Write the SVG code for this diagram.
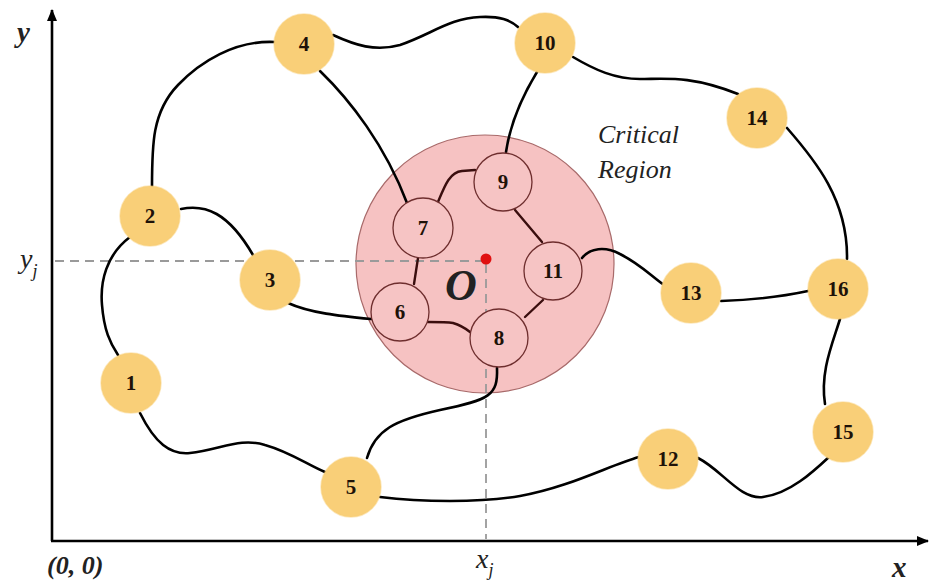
<svg xmlns="http://www.w3.org/2000/svg" width="935" height="584" viewBox="0 0 935 584">
<defs>
<marker id="arr" viewBox="0 0 12 10" refX="11" refY="5" markerWidth="12" markerHeight="10" markerUnits="userSpaceOnUse" orient="auto">
<path d="M0,0 L12,5 L0,10 Z" fill="#000"/>
</marker>
<style>
.axis{stroke:#000;stroke-width:2.6;fill:none}
.dash{stroke:#9a9a9a;stroke-width:1.8;stroke-dasharray:9,6;fill:none}
.edge{stroke:#000;stroke-width:2.6;fill:none;stroke-linecap:round}
.inedge{stroke:#3a0e0e;stroke-width:2.4;fill:none;stroke-linecap:round}
.onode{fill:#F9CF78;stroke:#F9CF78;stroke-width:1.5;stroke-opacity:0.5}
.pnode{fill:#F6C4C4;stroke:#6e2e2e;stroke-width:1.3}
.num{font-family:"Liberation Serif",serif;font-weight:bold;font-size:21px;fill:#1e1208;text-anchor:middle}
.lab{font-family:"Liberation Serif",serif;font-style:italic;fill:#222}
</style>
</defs>
<rect width="935" height="584" fill="#fff"/>

<g id="critical-region">
<circle cx="485" cy="264" r="129" fill="#F6C2C2" stroke="#a86a6a" stroke-width="1.2"/>
</g>

<g id="axes">
<line class="axis" x1="52" y1="541" x2="52" y2="10" marker-end="url(#arr)"/>
<line class="axis" x1="51" y1="541" x2="928" y2="541" marker-end="url(#arr)"/>
<line class="dash" x1="55" y1="261" x2="482" y2="261"/>
<line class="dash" x1="486" y1="264" x2="486" y2="539"/>
</g>

<g id="connectors">
<path class="edge" d="M275,42 C235,40 200,62 178,85 C152,112 152,145 152,187"/>
<path class="edge" d="M130,237 C106,255 100,282 102,305 C104,330 110,343 118,355"/>
<path class="edge" d="M181,209 C205,204 228,212 253,255"/>
<path class="edge" d="M288,303 C310,313 340,316 371,319"/>
<path class="edge" d="M140,413 C155,443 170,455 190,453 C220,450 240,437 265,445 C290,452 308,465 325,472"/>
<path class="edge" d="M367,458 C375,430 395,420 440,410 C490,400 498,395 497,368"/>
<path class="edge" d="M380,497 C420,502 480,503 520,496 C570,487 610,465 639,457"/>
<path class="edge" d="M698,458 C722,470 740,500 763,497 C790,494 815,470 830,456"/>
<path class="edge" d="M825,404 C820,372 832,345 840,319"/>
<path class="edge" d="M721,301 C750,300 780,297 808,291"/>
<path class="edge" d="M582,258 C590,248 605,246 620,254 C640,264 650,275 664,285"/>
<path class="edge" d="M787,128 C815,160 848,200 847,259"/>
<path class="edge" d="M573,57 C595,70 615,79 640,79 C665,79 690,75 738,94"/>
<path class="edge" d="M333,35 C355,45 375,52 400,45 C430,35 450,18 480,17 C500,16 510,20 518,27"/>
<path class="edge" d="M320,71 C350,100 385,145 407,203"/>
<path class="edge" d="M537,72 C520,100 510,125 506,152"/>
<path class="inedge" d="M438,202 C445,185 450,172 462,171 L475,170"/>
<path class="inedge" d="M515,210 L542,242"/>
<path class="inedge" d="M418,258 L414,284"/>
<path class="inedge" d="M428,322 C440,322 447,322 453,323 C460,325 465,328 470,332"/>
<path class="inedge" d="M525,317 L543,300"/>
</g>

<g id="node-1"><circle class="onode" cx="131" cy="383" r="30"/><text class="num" x="131" y="390">1</text></g>
<g id="node-2"><circle class="onode" cx="150" cy="216" r="30"/><text class="num" x="150" y="223">2</text></g>
<g id="node-3"><circle class="onode" cx="270" cy="280" r="30"/><text class="num" x="270" y="287">3</text></g>
<g id="node-4"><circle class="onode" cx="304" cy="44" r="30"/><text class="num" x="304" y="51">4</text></g>
<g id="node-5"><circle class="onode" cx="351" cy="487" r="30"/><text class="num" x="351" y="494">5</text></g>
<g id="node-10"><circle class="onode" cx="545" cy="43" r="30"/><text class="num" x="545" y="50">10</text></g>
<g id="node-14"><circle class="onode" cx="757" cy="118" r="30"/><text class="num" x="757" y="125">14</text></g>
<g id="node-13"><circle class="onode" cx="691" cy="293" r="30"/><text class="num" x="691" y="300">13</text></g>
<g id="node-16"><circle class="onode" cx="838" cy="289" r="30"/><text class="num" x="838" y="296">16</text></g>
<g id="node-15"><circle class="onode" cx="843" cy="432" r="30"/><text class="num" x="843" y="439">15</text></g>
<g id="node-12"><circle class="onode" cx="668" cy="459" r="30"/><text class="num" x="668" y="466">12</text></g>

<g id="node-7"><circle class="pnode" cx="423" cy="228" r="30"/><text class="num" x="423" y="235">7</text></g>
<g id="node-9"><circle class="pnode" cx="503" cy="182" r="29"/><text class="num" x="503" y="189">9</text></g>
<g id="node-11"><circle class="pnode" cx="553" cy="271" r="29"/><text class="num" x="553" y="278">11</text></g>
<g id="node-6"><circle class="pnode" cx="400" cy="312" r="29"/><text class="num" x="400" y="319">6</text></g>
<g id="node-8"><circle class="pnode" cx="499" cy="338" r="29"/><text class="num" x="499" y="345">8</text></g>

<g id="center-o">
<circle cx="486" cy="259" r="5.5" fill="#e01010"/>
<text class="lab" x="445" y="300" font-size="44" font-weight="bold" fill="#111">O</text>
</g>

<g id="labels">
<text class="lab" x="598" y="143" font-size="26" fill="#555">Critical</text>
<text class="lab" x="598" y="178" font-size="26" fill="#555">Region</text>
<text class="lab" x="17" y="42" font-size="29" font-weight="bold" fill="#111">y</text>
<text class="lab" x="20" y="268" font-size="28" fill="#333">y<tspan font-size="18" dy="9">j</tspan></text>
<text class="lab" x="47" y="574" font-size="26" font-weight="bold" fill="#111">(0, 0)</text>
<text class="lab" x="476" y="568" font-size="28" fill="#333">x<tspan font-size="18" dy="8">j</tspan></text>
<text class="lab" x="892" y="577" font-size="29" font-weight="bold" fill="#111">x</text>
</g>
</svg>
